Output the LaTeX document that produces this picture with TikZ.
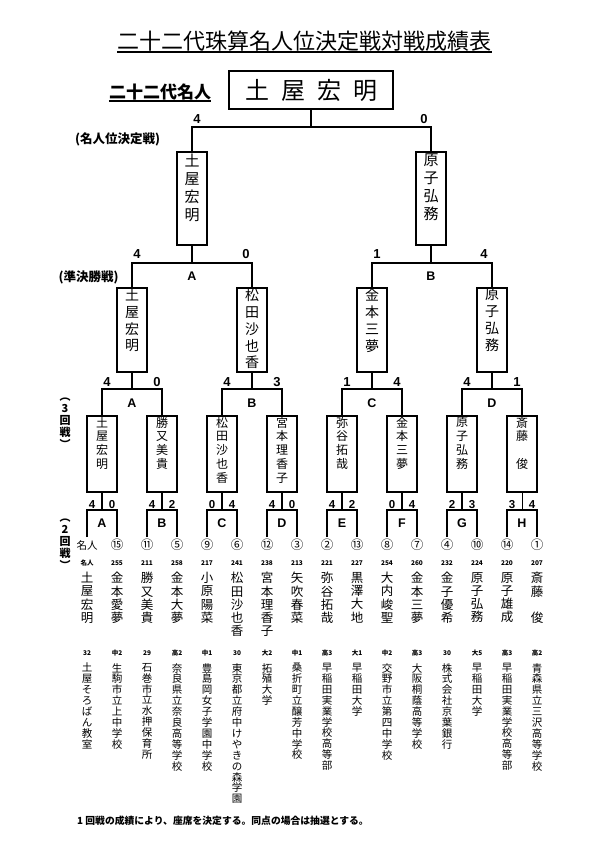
\documentclass[tikz,border=0pt]{standalone}
\usepackage{fontspec}
\setmainfont{Liberation Sans}
\newfontfamily\cjk{Noto Sans CJK JP}
\newcommand\vstk[3]{\parbox[c][#1][t]{30pt}{\centering\vspace*{#2}#3\par}}
\newcommand\plcol[6]{%
  \node[seedst] (s#1) at ({87+30*#1},545) {#2};
  \node[numst] (n#1) at ({87+30*#1},563) {#3};
  \node[namest] (nm#1) at ({87+30*#1},572) {#4};
  \node[numst] (g#1) at ({87+30*#1},653) {#5};
  \node[affst] (a#1) at ({87+30*#1},663) {#6};
  \coordinate (p#1) at ({87+30*#1},537);
}
\begin{document}
\begin{tikzpicture}[x=1pt,y=-1pt,
  br/.style={line width=2.7pt},
  brthin/.style={line width=1pt},
  bx/.style={draw,line width=1.6pt,inner sep=0pt},
  finst/.style={bx,font=\cjk\fontsize{15}{18}\selectfont},
  semist/.style={bx,font=\cjk\fontsize{14}{16.75}\selectfont},
  rthst/.style={bx,font=\cjk\fontsize{12}{13.9}\selectfont},
  scA/.style={font=\bfseries\fontsize{13}{13}\selectfont,anchor=base,inner sep=0pt},
  scB/.style={font=\bfseries\fontsize{11.5}{11.5}\selectfont,anchor=base,inner sep=0pt},
  letA/.style={font=\bfseries\fontsize{12.5}{12.5}\selectfont,anchor=base,inner sep=0pt},
  lab/.style={font=\cjk\bfseries\fontsize{12.5}{12.5}\selectfont,anchor=base,inner sep=0pt},
  vlab/.style={font=\cjk\bfseries\fontsize{11}{12}\selectfont,align=center,inner sep=0pt},
  seedst/.style={font=\cjk\fontsize{12.5}{12.5}\selectfont,inner sep=0pt},
  numst/.style={font=\cjk\bfseries\fontsize{6.5}{6.5}\selectfont,inner sep=0pt},
  namest/.style={font=\cjk\fontsize{12.5}{13.3}\selectfont,align=center,anchor=north,inner sep=0pt},
  affst/.style={font=\cjk\fontsize{10.5}{10.9}\selectfont,align=center,anchor=north,inner sep=0pt}
]
\useasboundingbox[fill=white] (0,0) rectangle (607,859);

% title
\node[font=\cjk\fontsize{22}{22}\selectfont,inner sep=0pt,anchor=base] (title) at (304.5,49) {二十二代珠算名人位決定戦対戦成績表};
\draw[line width=1.5pt] ([yshift=-3pt]title.base west) -- ([yshift=-3pt]title.base east);

\node[font=\cjk\bfseries\fontsize{17}{17}\selectfont,inner sep=0pt,anchor=base] (meijin) at (160,98.5) {二十二代名人};
\draw[line width=1.5pt] ([yshift=-2.5pt]meijin.base west) -- ([yshift=-2.5pt]meijin.base east);

\node[bx,minimum width=164pt,minimum height=38pt,font=\cjk\fontsize{24}{24}\selectfont] (champ) at (311,90) {土\hspace{12pt}屋\hspace{12pt}宏\hspace{12pt}明};

% labels
\node[lab] (lf) at (117.5,143) {(名人位決定戦)};
\node[lab] (ls) at (88.5,281) {(準決勝戦)};
\node[vlab] (l3) at (65,423.5) {︵\\3\\回\\戦\\︶};
\node[vlab] (l2) at (65,544.5) {︵\\2\\回\\戦\\︶};

% final boxes
\node[finst] (fin1) at (192,198.5) {\vstk{93pt}{2pt}{土\\屋\\宏\\明}};
\node[finst] (fin2) at (431,198.5) {\vstk{93pt}{2pt}{原\\子\\弘\\務}};

% semifinal boxes
\node[semist] (sm0) at (132,330) {\vstk{84pt}{1pt}{土\\屋\\宏\\明}};
\node[semist] (sm1) at (252,330) {\vstk{84pt}{1pt}{松\\田\\沙\\也\\香}};
\node[semist] (sm2) at (372,330) {\vstk{84pt}{1pt}{金\\本\\三\\夢}};
\node[semist] (sm3) at (492,330) {\vstk{84pt}{1pt}{原\\子\\弘\\務}};

% third round boxes
\node[rthst] (r0) at (102,454) {\vstk{76pt}{1pt}{土\\屋\\宏\\明}};
\node[rthst] (r1) at (162,454) {\vstk{76pt}{1pt}{勝\\又\\美\\貴}};
\node[rthst] (r2) at (222,454) {\vstk{76pt}{1pt}{松\\田\\沙\\也\\香}};
\node[rthst] (r3) at (282,454) {\vstk{76pt}{1pt}{宮\\本\\理\\香\\子}};
\node[rthst] (r4) at (342,454) {\vstk{76pt}{1pt}{弥\\谷\\拓\\哉}};
\node[rthst] (r5) at (402,454) {\vstk{76pt}{1pt}{金\\本\\三\\夢}};
\node[rthst] (r6) at (462,454) {\vstk{76pt}{1pt}{原\\子\\弘\\務}};
\node[rthst] (r7) at (522,454) {\vstk{76pt}{1pt}{斎\\藤\\　\\俊}};

% player columns
\plcol{0}{\fontsize{10.5}{10.5}\selectfont 名人}{名人}{土\\屋\\宏\\明}{32}{土\\屋\\そ\\ろ\\ば\\ん\\教\\室}
\plcol{1}{⑮}{255}{金\\本\\愛\\夢}{中2}{生\\駒\\市\\立\\上\\中\\学\\校}
\plcol{2}{⑪}{211}{勝\\又\\美\\貴}{29}{石\\巻\\市\\立\\水\\押\\保\\育\\所}
\plcol{3}{⑤}{258}{金\\本\\大\\夢}{高2}{奈\\良\\県\\立\\奈\\良\\高\\等\\学\\校}
\plcol{4}{⑨}{217}{小\\原\\陽\\菜}{中1}{豊\\島\\岡\\女\\子\\学\\園\\中\\学\\校}
\plcol{5}{⑥}{241}{松\\田\\沙\\也\\香}{30}{東\\京\\都\\立\\府\\中\\け\\や\\き\\の\\森\\学\\園}
\plcol{6}{⑫}{238}{宮\\本\\理\\香\\子}{大2}{拓\\殖\\大\\学}
\plcol{7}{③}{213}{矢\\吹\\春\\菜}{中1}{桑\\折\\町\\立\\醸\\芳\\中\\学\\校}
\plcol{8}{②}{221}{弥\\谷\\拓\\哉}{高3}{早\\稲\\田\\実\\業\\学\\校\\高\\等\\部}
\plcol{9}{⑬}{227}{黒\\澤\\大\\地}{大1}{早\\稲\\田\\大\\学}
\plcol{10}{⑧}{254}{大\\内\\峻\\聖}{中2}{交\\野\\市\\立\\第\\四\\中\\学\\校}
\plcol{11}{⑦}{260}{金\\本\\三\\夢}{高3}{大\\阪\\桐\\蔭\\高\\等\\学\\校}
\plcol{12}{④}{232}{金\\子\\優\\希}{30}{株\\式\\会\\社\\京\\葉\\銀\\行}
\plcol{13}{⑩}{224}{原\\子\\弘\\務}{大5}{早\\稲\\田\\大\\学}
\plcol{14}{⑭}{220}{原\\子\\雄\\成}{高3}{早\\稲\\田\\実\\業\\学\\校\\高\\等\\部}
\plcol{15}{①}{207}{斎\\藤\\　\\俊}{高2}{青\\森\\県\\立\\三\\沢\\高\\等\\学\\校}

% junction coordinates
\coordinate (jF) at (311,127);
\coordinate (jS0) at (192,263);
\coordinate (jS1) at (431,263);
\foreach \j in {0,...,3} {\coordinate (jT\j) at ({132+120*\j},389);}
\foreach \k in {0,...,7} {\coordinate (jR\k) at ({102+60*\k},510);}

% connectors: final
\draw[br] (champ.south) -- (jF);
\draw[br] (fin1.north) |- (jF) -| (fin2.north);
% semifinal
\draw[br] (fin1.south) -- (jS0);
\draw[br] (sm0.north) |- (jS0) -| (sm1.north);
\draw[br] (fin2.south) -- (jS1);
\draw[br] (sm2.north) |- (jS1) -| (sm3.north);
% third round
\foreach \j/\a/\b in {0/0/1,1/2/3,2/4/5,3/6/7} {
  \draw[br] (sm\j.south) -- (jT\j);
  \draw[br] (r\a.north) |- (jT\j) -| (r\b.north);
}
% second round
\foreach \k/\a/\b in {0/0/1,1/2/3,2/4/5,3/6/7,4/8/9,5/10/11,6/12/13} {
  \draw[br] (r\k.south) -- (jR\k);
  \draw[br] (p\a) |- (jR\k) -| (p\b);
}
\draw[brthin] (r7.south) -- (jR7);
\draw[br] (p14) |- (jR7) -| (p15);

% scores
\node[scA] (f4) at (197,123) {4};
\node[scA] (f0) at (424,123) {0};
\node[scA] (sa1) at (137,258) {4};
\node[scA] (sa2) at (246,258) {0};
\node[scA] (sb1) at (377,258) {1};
\node[scA] (sb2) at (484,258) {4};
\node[letA] (LA) at (192,280) {A};
\node[letA] (LB) at (431,280) {B};
\foreach \j/\l/\x/\y in {0/A/4/0,1/B/4/3,2/C/1/4,3/D/4/1} {
  \node[scA] (t\j a) at ({107+120*\j},386) {\x};
  \node[scA] (t\j b) at ({157+120*\j},386) {\y};
  \node[letA] (T\j) at ({132+120*\j},407) {\l};
}
\foreach \k/\l/\x/\y in {0/A/4/0,1/B/4/2,2/C/0/4,3/D/4/0,4/E/4/2,5/F/0/4,6/G/2/3,7/H/3/4} {
  \node[scB] (q\k a) at ({92+60*\k},508) {\x};
  \node[scB] (q\k b) at ({112+60*\k},508) {\y};
  \node[letA] (Q\k) at ({102+60*\k},527) {\l};
}

% footnote
\node[font=\cjk\bfseries\fontsize{9.8}{9.8}\selectfont,anchor=base west,inner sep=0pt] (note) at (77,824) {1 回戦の成績により、座席を決定する。同点の場合は抽選とする。};
\end{tikzpicture}
\end{document}
